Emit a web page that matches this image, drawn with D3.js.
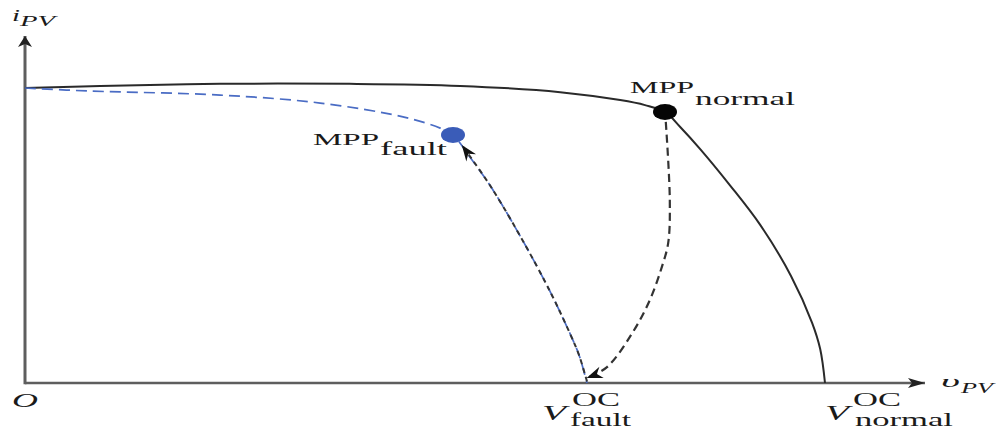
<!DOCTYPE html>
<html>
<head>
<meta charset="utf-8">
<script src="https://cdn.jsdelivr.net/npm/d3@7"></script>
<style>
  html, body { margin: 0; padding: 0; background: #fff; }
  svg { display: block; }
  text { font-family: "Liberation Serif", "DejaVu Serif", serif; fill: #1a1a1a; }
</style>
</head>
<body>
<svg id="chart" width="996" height="430"></svg>
<script>
// Normalised PV characteristics: voltage / V_oc(normal), current / I_sc
const normalV = [0, 0.094, 0.244, 0.406, 0.544, 0.669, 0.744, 0.775, 0.800, 0.819, 0.844, 0.881, 0.919, 0.9575, 0.984, 0.994, 1.0];
const normalI = [1.000, 1.007, 1.014, 1.014, 1.007, 0.986, 0.959, 0.942, 0.919, 0.868, 0.793, 0.671, 0.536, 0.363, 0.203, 0.115, 0];

const faultV = [0, 0.0775, 0.244, 0.369, 0.4725, 0.519, 0.535, 0.556, 0.581, 0.619, 0.656, 0.681, 0.6925, 0.7025];
const faultI = [1.0, 0.990, 0.976, 0.949, 0.902, 0.864, 0.841, 0.766, 0.671, 0.498, 0.312, 0.169, 0.095, 0];

// Operating-point trajectory: MPP(normal) -> V_oc(fault) -> MPP(fault)
const trackDownV = [0.801, 0.806, 0.804, 0.796, 0.781, 0.759, 0.7275, 0.702];
const trackDownI = [0.885, 0.620, 0.475, 0.393, 0.281, 0.169, 0.054, 0.017];
const trackUpV = [0.7025, 0.6925, 0.681, 0.656, 0.619, 0.581, 0.546];
const trackUpI = [0.005, 0.095, 0.169, 0.312, 0.498, 0.671, 0.807];

const mppNormal = [0.800, 0.919];
const mppFault = [0.535, 0.841];
const vocNormal = 1.0;
const vocFault = 0.7025;

const axisMaxV = 1.125;
const axisMaxI = 1.176;

const svg = d3.select("#chart");
const x = d3.scaleLinear().domain([0, 1]).range([25, 825]);
const y = d3.scaleLinear().domain([0, 1]).range([383, 88]);

const defs = svg.append("defs");
function marker(id, len, half, notch, color) {
  defs.append("marker")
    .attr("id", id)
    .attr("markerUnits", "userSpaceOnUse")
    .attr("viewBox", `${-len - 1} ${-half - 1} ${len + 2} ${2 * half + 2}`)
    .attr("markerWidth", len + 2)
    .attr("markerHeight", 2 * half + 2)
    .attr("refX", 0).attr("refY", 0)
    .attr("orient", "auto")
    .append("path")
    .attr("d", `M0,0 L${-len},${-half} L${-len + notch},0 L${-len},${half} Z`)
    .attr("fill", color);
}
marker("arrX", 17, 5, 4, "#222");
marker("arrY", 11, 7, 3, "#222");
marker("arrTrack", 16, 6, 5, "#111");

const pts = (vs, is) => vs.map((v, k) => [v, is[k]]);
const line = d3.line().x(d => x(d[0])).y(d => y(d[1])).curve(d3.curveCatmullRom.alpha(0.5));

// Axes
svg.append("line")
  .attr("x1", x(0)).attr("y1", y(0)).attr("x2", x(axisMaxV)).attr("y2", y(0))
  .attr("stroke", "#5e5e5e").attr("stroke-width", 2.6).attr("marker-end", "url(#arrX)");
svg.append("line")
  .attr("x1", x(0)).attr("y1", y(0) + 1.3).attr("x2", x(0)).attr("y2", y(axisMaxI))
  .attr("stroke", "#5e5e5e").attr("stroke-width", 3).attr("marker-end", "url(#arrY)");

// Normal I-V curve
svg.append("path").attr("d", line(pts(normalV, normalI)))
  .attr("fill", "none").attr("stroke", "#2a2a2a").attr("stroke-width", 2);

// Faulted I-V curve
svg.append("path").attr("d", line(pts(faultV, faultI)))
  .attr("fill", "none").attr("stroke", "#4a6cc4").attr("stroke-width", 1.7)
  .attr("stroke-dasharray", "11 6");

// Trajectory arrows
svg.append("path").attr("d", line(pts(trackDownV, trackDownI)))
  .attr("fill", "none").attr("stroke", "#333").attr("stroke-width", 2.2)
  .attr("stroke-dasharray", "8 5").attr("marker-end", "url(#arrTrack)");
svg.append("path").attr("d", line(pts(trackUpV, trackUpI)))
  .attr("fill", "none").attr("stroke", "#333").attr("stroke-width", 2)
  .attr("stroke-dasharray", "5 4").attr("marker-end", "url(#arrTrack)");

// Maximum power points
svg.append("ellipse").attr("cx", x(mppNormal[0])).attr("cy", y(mppNormal[1]))
  .attr("rx", 12).attr("ry", 8).attr("fill", "#050505");
svg.append("ellipse").attr("cx", x(mppFault[0])).attr("cy", y(mppFault[1]))
  .attr("rx", 12).attr("ry", 8).attr("fill", "#3a5cb8");

// Labels: serif glyphs stretched to a fixed run width
function label(px, py, str, size, width, italic) {
  return svg.append("text").attr("x", px).attr("y", py)
    .attr("font-size", size)
    .attr("font-style", italic ? "italic" : "normal")
    .attr("textLength", width)
    .attr("lengthAdjust", "spacingAndGlyphs")
    .text(str);
}

// Axis titles
label(12, 21, "i", 17, 8, true);
label(20, 26, "PV", 14, 35, true);
label(941, 387, "υ", 17, 19, true);
label(961, 393, "PV", 14, 32, true);
label(12, 407, "O", 19, 26, true);

// MPP labels
const mnx = x(mppNormal[0]), mny = y(mppNormal[1]);
label(mnx - 35, mny - 19, "MPP", 17, 64, false);
label(mnx + 30, mny - 7, "normal", 18.5, 100, false);
const mfx = x(mppFault[0]), mfy = y(mppFault[1]);
label(mfx - 140, mfy + 10, "MPP", 17, 66, false);
label(mfx - 73, mfy + 20, "fault", 18.5, 67, false);

// Open-circuit voltage labels
const vfx = x(vocFault);
label(vfx - 45, 420, "V", 21, 24, true);
label(vfx - 15, 406, "OC", 18, 48, false);
label(vfx - 17, 426, "fault", 18, 61, false);
const vnx = x(vocNormal);
label(vnx, 420, "V", 21, 24, true);
label(vnx + 28, 406, "OC", 18, 48, false);
label(vnx + 30, 426, "normal", 18, 98, false);
</script>
</body>
</html>
